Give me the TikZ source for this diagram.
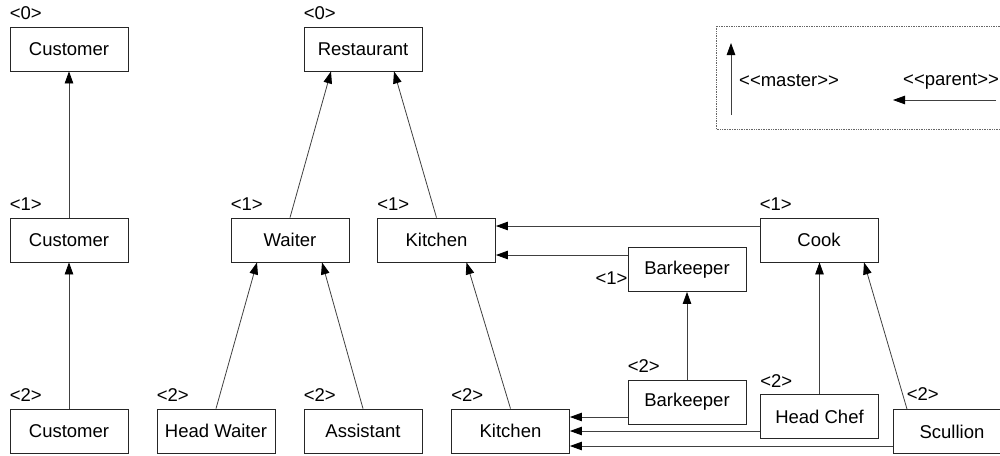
\documentclass[tikz,border=0pt]{standalone}
\usepackage{fontspec}
\setmainfont{Liberation Sans}
\usetikzlibrary{arrows.meta}
\tikzset{
  cls/.style={draw=black!85, line width=0.8pt, minimum width=118pt, minimum height=44pt,
    inner sep=0pt, font=\fontsize{18.5}{20}\selectfont},
  lvl/.style={anchor=base west, inner sep=0pt, font=\fontsize{18.5}{20}\selectfont},
  master/.style={draw=black!75, line width=0.8pt, -{Triangle[length=12pt,width=8.5pt,color=black]}},
  parent/.style={master},
}
\begin{document}
\begin{tikzpicture}[x=1pt,y=-1pt]
    \useasboundingbox (0,0) rectangle (1000,455);
    \clip (0,0) rectangle (1000,455);
    % level 0
    \node[cls] (cust0) at (69,49) {Customer};
    \node[cls] (rest0) at (363,49) {Restaurant};
    % level 1
    \node[cls] (cust1) at (69,240) {Customer};
    \node[cls] (waiter1) at (290,240) {Waiter};
    \node[cls] (kitchen1) at (436.5,240) {Kitchen};
    \node[cls] (cook1) at (819,240) {Cook};
    \node[cls] (bark1) at (687,269.5) {Barkeeper};
    % level 2
    \node[cls] (cust2) at (69,431) {Customer};
    \node[cls] (headw2) at (216,431) {Head Waiter};
    \node[cls] (assist2) at (363,431) {Assistant};
    \node[cls] (kitchen2) at (510.5,431) {Kitchen};
    \node[cls] (bark2) at (687,402) {Barkeeper};
    \node[cls] (chef2) at (819.5,416.5) {Head Chef};
    \node[cls] (scull2) at (952,431.5) {Scullion};
    % level labels
    \node[lvl] (lcust0) at ([yshift=7pt]cust0.north west) {<0>};
    \node[lvl] (lrest0) at ([yshift=7pt]rest0.north west) {<0>};
    \node[lvl] (lcust1) at ([yshift=7pt]cust1.north west) {<1>};
    \node[lvl] (lwaiter1) at ([yshift=7pt]waiter1.north west) {<1>};
    \node[lvl] (lkitchen1) at ([yshift=7pt]kitchen1.north west) {<1>};
    \node[lvl] (lcook1) at ([yshift=7pt]cook1.north west) {<1>};
    \node[lvl, anchor=base east] (lbark1) at ([yshift=-15pt]bark1.west) {<1>};
    \node[lvl] (lcust2) at ([yshift=7pt]cust2.north west) {<2>};
    \node[lvl] (lheadw2) at ([yshift=7pt]headw2.north west) {<2>};
    \node[lvl] (lassist2) at ([yshift=7pt]assist2.north west) {<2>};
    \node[lvl] (lkitchen2) at ([yshift=7pt]kitchen2.north west) {<2>};
    \node[lvl] (lbark2) at ([yshift=7pt]bark2.north west) {<2>};
    \node[lvl] (lchef2) at ([yshift=7pt]chef2.north west) {<2>};
    \node[lvl] (lscull2) at ([xshift=14pt,yshift=9pt]scull2.north west) {<2>};
    % master links
    \draw[master] (cust1) -- (cust0);
    \draw[master] (cust2) -- (cust1);
    \draw[master] (waiter1.north) -- ([xshift=-32pt]rest0.south);
    \draw[master] (kitchen1.north) -- ([xshift=31pt]rest0.south);
    \draw[master] (headw2.north) -- ([xshift=-33pt]waiter1.south);
    \draw[master] (assist2.north) -- ([xshift=32pt]waiter1.south);
    \draw[master] (kitchen2.north) -- ([xshift=30pt]kitchen1.south);
    \draw[master] (bark2) -- (bark1);
    \draw[master] (chef2.north) -- (chef2.north |- cook1.south);
    \draw[master] ([xshift=-45pt]scull2.north) -- ([xshift=45pt]cook1.south);
    % parent links
    \coordinate (pcook) at ([yshift=14pt]cook1.west);
    \coordinate (pbark1) at ([yshift=14.5pt]bark1.west);
    \coordinate (pbark2) at ([yshift=-15pt]bark2.west);
    \coordinate (pchef) at ([yshift=-14.5pt]chef2.west);
    \coordinate (pscull) at ([yshift=-14.5pt]scull2.west);
    \draw[parent] (pcook) -- (pcook -| kitchen1.east);
    \draw[parent] (pbark1) -- (pbark1 -| kitchen1.east);
    \draw[parent] (pbark2) -- (pbark2 -| kitchen2.east);
    \draw[parent] (pchef) -- (pchef -| kitchen2.east);
    \draw[parent] (pscull) -- (pscull -| kitchen2.east);
    % legend
    \draw[densely dotted, black!60, line width=0.7pt] (716,26) rectangle (1010,129);
    \coordinate (mfrom) at (731,115);
    \coordinate (mto) at (731,43);
    \draw[master] (mfrom) -- (mto);
    \node[lvl, anchor=west] (mtext) at (739,81) {<\kern0pt<master>\kern0pt>};
    \node[lvl, anchor=west] (ptext) at (903,81) {<\kern0pt<parent>\kern0pt>};
    \coordinate (pfrom) at (996,100);
    \coordinate (pto) at (893,100);
    \draw[parent] (pfrom) -- (pto);
\end{tikzpicture}
\end{document}
